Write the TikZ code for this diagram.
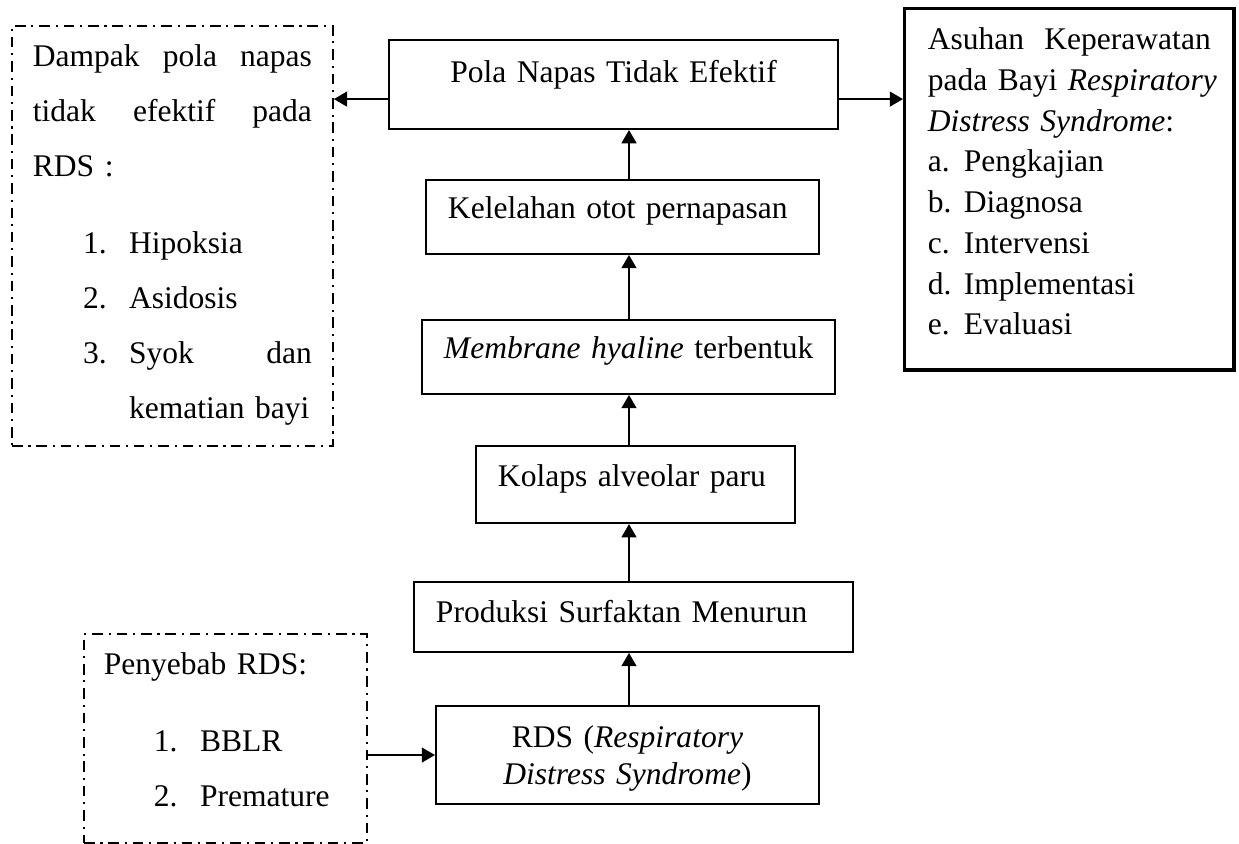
\documentclass[tikz,border=0pt]{standalone}
\usepackage{fontspec}
\setmainfont{Liberation Serif}
\usetikzlibrary{arrows.meta}

\newcommand{\butir}[2]{\hspace*{18.9pt}\makebox[17.4pt][l]{#1}#2}
\newcommand{\huruf}[2]{\makebox[13.6pt][l]{#1}#2}
\newcommand{\geser}{\hspace*{8.3pt}}

\begin{document}
\begin{tikzpicture}[x=0.3774pt, y=-0.3774pt,
    kotak/.style={draw, line width=0.75pt, anchor=north west, inner ysep=0pt,
      inner xsep=0pt, align=left, font=\fontsize{11.9pt}{14.4pt}\selectfont},
    titik/.style={kotak, dash pattern=on 4pt off 2.2pt on 0.8pt off 2.2pt},
    panah/.style={line width=0.75pt, -{Triangle[length=5pt,width=5.6pt]}}]
    \useasboundingbox (0,0) rectangle (1239,843);

    % Definisi node
    \node[kotak, align=center, text width=169.5pt,
      text height=16.2pt, text depth=17.4pt] (Pola) at (388,39) {Pola Napas Tidak Efektif};
    \node[kotak, text width=148.3pt, text height=14.7pt, text depth=13.2pt]
      (Lelah) at (425,179) {\geser Kelelahan otot pernapasan};
    \node[kotak, text width=155.9pt, text height=14.7pt, text depth=13.2pt]
      (Membran) at (421,319) {\geser\textit{Membrane hyaline} terbentuk};
    \node[kotak, text width=120.4pt, text height=15.1pt, text depth=14.0pt]
      (Kolaps) at (475,445) {\geser Kolaps alveolar paru};
    \node[kotak, text width=165.7pt, text height=15.1pt, text depth=11.3pt]
      (Surf) at (413,581) {\geser Produksi Surfaktan Menurun};
    \node[kotak, align=center, text width=144.5pt, text height=15.5pt, text depth=21.5pt,
      font=\fontsize{11.9pt}{14pt}\selectfont]
      (RDS) at (435,705) {RDS (\textit{Respiratory}\\ \textit{Distress Syndrome})};

    \node[titik, inner xsep=7.9pt, text width=105.3pt, text height=15.1pt, text depth=143.4pt,
      font=\fontsize{11.9pt}{20.76pt}\selectfont] (Dampak) at (11,25)
      {Dampak\hfill pola\hfill napas\\
       tidak\hfill efektif\hfill pada\\
       RDS :\\[8.3pt]
       \butir{1.}{Hipoksia}\\
       \butir{2.}{Asidosis}\\
       \butir{3.}{Syok\hfill dan}\\
       \hspace*{36.3pt}kematian bayi};
    \node[titik, inner xsep=7.5pt, text width=91.7pt, text height=15.1pt, text depth=63.8pt,
      font=\fontsize{11.9pt}{20.76pt}\selectfont] (Sebab) at (83,633)
      {Penyebab RDS:\\[8.3pt]
       \butir{1.}{BBLR}\\
       \butir{2.}{Premature}};
    \node[kotak, line width=1.3pt, inner xsep=8.7pt, text width=106.8pt, text height=15.5pt,
      text depth=120.8pt, font=\fontsize{11.9pt}{15.36pt}\selectfont] (Askep) at (903,7)
      {Asuhan\hfill Keperawatan\\
       \mbox{pada Bayi \textit{Respiratory}}\\
       \mbox{\textit{Distress Syndrome}:}\\
       \huruf{a.}{Pengkajian}\\
       \huruf{b.}{Diagnosa}\\
       \huruf{c.}{Intervensi}\\
       \huruf{d.}{Implementasi}\\
       \huruf{e.}{Evaluasi}};

    % Definisi panah
    \coordinate (sumbu) at (629,0);
    \draw[panah] (RDS.north -| sumbu) -- (Surf.south -| sumbu);
    \draw[panah] (Surf.north -| sumbu) -- (Kolaps.south -| sumbu);
    \draw[panah] (Kolaps.north -| sumbu) -- (Membran.south -| sumbu);
    \draw[panah] (Membran.north -| sumbu) -- (Lelah.south -| sumbu);
    \draw[panah] (Lelah.north -| sumbu) -- (Pola.south -| sumbu);

    \coordinate (ki) at ([yshift=-5.5pt]Pola.west);
    \coordinate (ka) at ([yshift=-5.5pt]Pola.east);
    \draw[panah] (ki) -- (ki -| Dampak.east);
    \draw[panah] (ka) -- (ka -| Askep.west);
    \draw[panah] (Sebab.east |- RDS.west) -- (RDS.west);
\end{tikzpicture}
\end{document}
